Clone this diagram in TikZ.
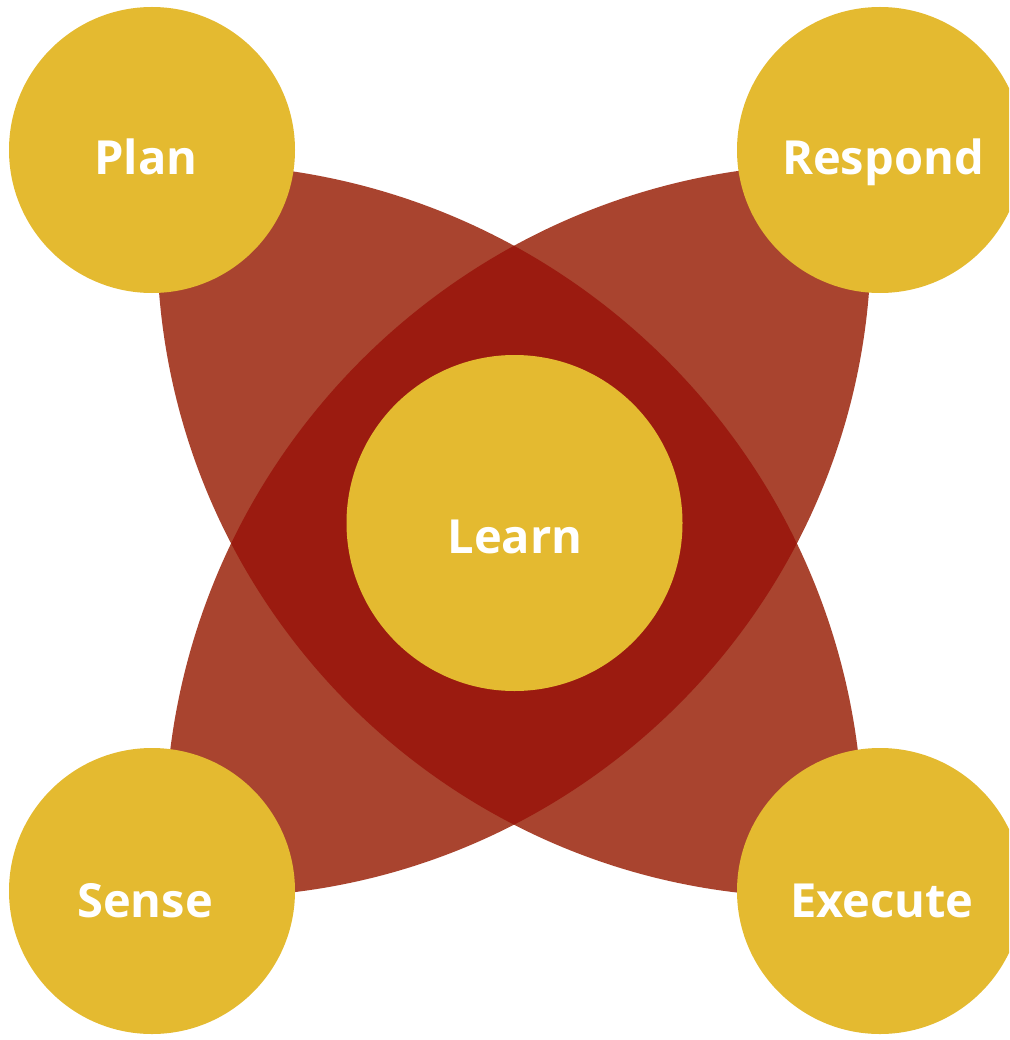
\documentclass[tikz,border=0pt]{standalone}
\usepackage{fontspec}
\setmainfont{Open Sans}
\definecolor{petal}{HTML}{A9442F}
\definecolor{core}{HTML}{9B1B10}
\definecolor{gold}{HTML}{E4BA30}
\begin{document}
\begin{tikzpicture}[x=1pt,y=-1pt,
  disc/.style={circle,fill=gold,inner sep=0pt,minimum size=#1},
  lbl/.style={text=white,font=\fontsize{47}{56}\selectfont\bfseries,anchor=base,inner sep=0pt}]
\useasboundingbox (0,0) rectangle (1009,1040);
\clip (0,0) rectangle (1009,1040);
% petal Plan -- Execute
\begin{scope}
  \clip (193,834) circle[radius=670pt];
  \fill[petal] (814,240) circle[radius=657pt];
\end{scope}
% petal Respond -- Sense
\begin{scope}
  \clip (835,834) circle[radius=670pt];
  \fill[petal] (214,240) circle[radius=657pt];
\end{scope}
% overlap
\begin{scope}
  \clip (193,834) circle[radius=670pt];
  \clip (814,240) circle[radius=657pt];
  \clip (835,834) circle[radius=670pt];
  \fill[core] (214,240) circle[radius=657pt];
\end{scope}
% discs
\node[disc=286pt] (plan) at (152,150) {};
\node[disc=286pt] (respond) at (880,150) {};
\node[disc=286pt] (sense) at (152,891) {};
\node[disc=286pt] (execute) at (880,891) {};
\node[disc=336pt] (learn) at (514.5,523) {};
% labels
\node[lbl] (planlbl) at (146,175) {Plan};
\node[lbl] (respondlbl) at (883,175) {Respond};
\node[lbl] (senselbl) at (145,917) {Sense};
\node[lbl] (executelbl) at (882,917) {Execute};
\node[lbl] (learnlbl) at (515,553) {Learn};
\end{tikzpicture}
\end{document}
